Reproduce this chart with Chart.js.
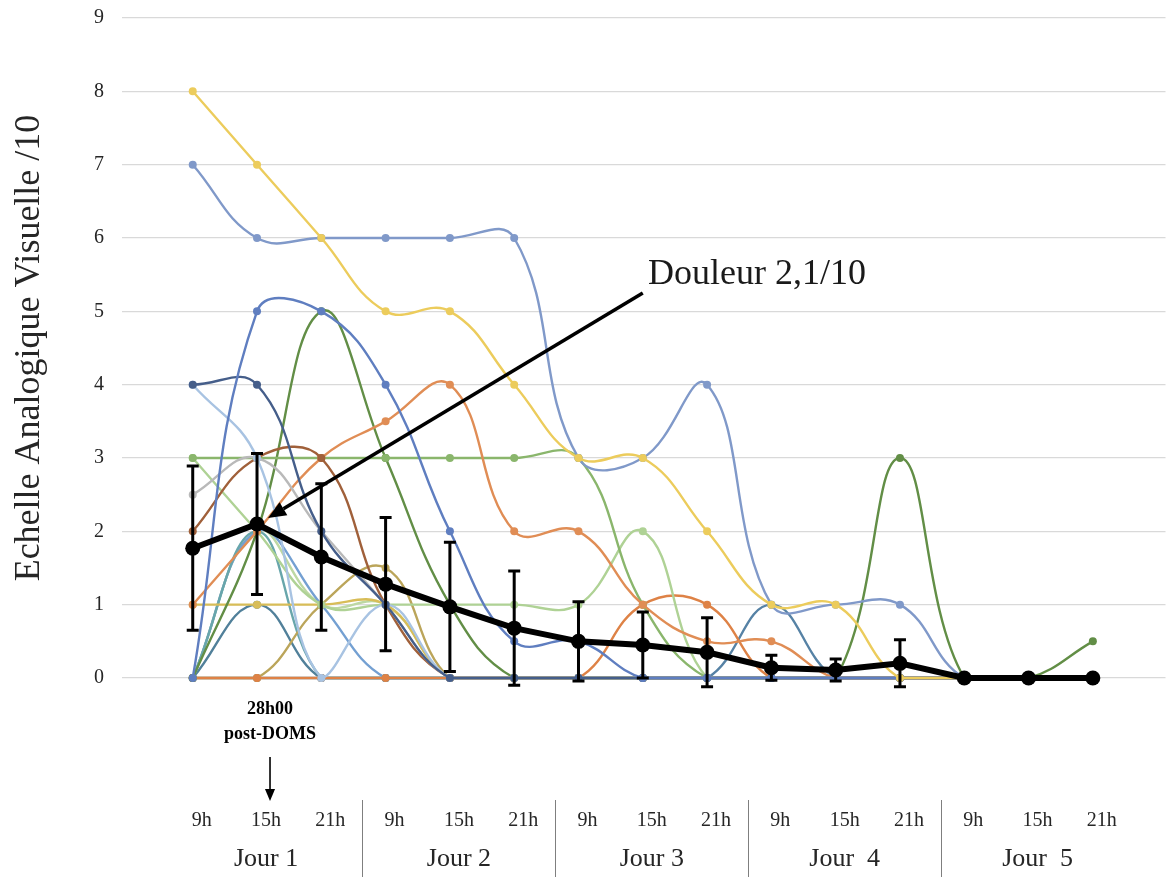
<!DOCTYPE html>
<html>
<head>
<meta charset="utf-8">
<script src="https://cdn.jsdelivr.net/npm/chart.js@4.4.1/dist/chart.umd.min.js"></script>
<style>
  html, body { margin: 0; padding: 0; background: #ffffff; }
  #wrap { width: 1173px; height: 877px; }
</style>
</head>
<body>
<div id="wrap"><canvas id="eva" width="1173" height="877"></canvas></div>
<script>
// Time points: three sessions per day over five days
const hourLabels = ['9h', '15h', '21h', '9h', '15h', '21h', '9h', '15h', '21h', '9h', '15h', '21h', '9h', '15h', '21h'];
const dayLabels = ['Jour 1', 'Jour 2', 'Jour 3', 'Jour  4', 'Jour  5'];
const yTicks = [0, 1, 2, 3, 4, 5, 6, 7, 8, 9];

// Group mean (EVA /10) and standard deviation at each time point
const meanScore = [1.77, 2.1, 1.65, 1.28, 0.97, 0.68, 0.5, 0.45, 0.35, 0.14, 0.11, 0.2, 0, 0, 0];
const meanSD    = [1.12, 0.96, 1.0, 0.91, 0.88, 0.78, 0.54, 0.45, 0.47, 0.17, 0.15, 0.32, 0, 0, 0];

// Individual participant scores
const p01 = [8, 7, 6, 5, 5, 4, 3, 3, 2, 1, 1, 0, 0, 0, 0];
const p02 = [7, 6, 6, 6, 6, 6, 3, 3, 4, 1, 1, 1, 0, 0, 0];
const p03 = [0, 5, 5, 4, 2, 0.5, 0.5, 0, 0, 0, 0, 0, 0, 0, 0];
const p04 = [4, 4, 2, 1, 0, 0, 0, 0, 0, 0, 0, 0, 0, 0, 0];
const p05 = [4, 3, 0, 1, 0, 0, 0, 0, 0, 0, 0, 0, 0, 0, 0];
const p06 = [2.5, 3, 2, 1, 0, 0, 0, 0, 0, 0, 0, 0, 0, 0, 0];
const p07 = [2, 3, 3, 1, 0, 0, 0, 0, 0, 0, 0, 0, 0, 0, 0];
const p08 = [1, 2, 3, 3.5, 4, 2, 2, 1, 0.5, 0.5, 0, 0, 0, 0, 0];
const p09 = [3, 3, 3, 3, 3, 3, 3, 1, 0, 0, 0, 0, 0, 0, 0];
const p10 = [3, 2, 1, 1, 1, 1, 1, 2, 0, 0, 0, 0, 0, 0, 0];
const p11 = [0, 2, 5, 3, 1, 0, 0, 0, 0, 0, 0, 3, 0, 0, 0.5];
const p12 = [0, 0, 0, 0, 0, 0, 0, 1, 1, 0, 0, 0, 0, 0, 0];
const p13 = [1, 1, 1, 1, 0, 0, 0, 0, 0, 0, 0, 0, 0, 0, 0];
const p14 = [0, 0, 1, 1.5, 0, 0, 0, 0, 0, 0, 0, 0, 0, 0, 0];
const p15 = [0, 2, 0, 0, 0, 0, 0, 0, 0, 0, 0, 0, 0, 0, 0];
const p16 = [0, 2, 1, 0, 0, 0, 0, 0, 0, 0, 0, 0, 0, 0, 0];
const p17 = [0, 2, 1, 1, 0, 0, 0, 0, 0, 0, 0, 0, 0, 0, 0];
const p18 = [0, 1, 0, 0, 0, 0, 0, 0, 0, 0, 0, 0, 0, 0, 0];
const p19 = [0, 0, 0, 0, 0, 0, 0, 0, 0, 1, 0, 0, 0, 0, 0];

const participants = [p01, p02, p03, p04, p05, p06, p07, p08, p09, p10, p11, p12, p13, p14, p15, p16, p17, p18, p19];
const participantColors = [
  '#eccc5c', '#8099c9', '#5f7ec0', '#455e8a', '#a8c3e2', '#b9b9b9', '#a0603a',
  '#e08d55', '#8ab66c', '#afd295', '#628e46', '#de8246', '#d8bd58', '#bba55a',
  '#68a6ab', '#74a0d2', '#bdd8a3', '#51809a', '#5682a5'
];

const SERIF = "'Liberation Serif', 'Times New Roman', serif";
const TXT = '#262626';

const toPoints = arr => arr.map((v, i) => ({ x: i, y: v }));

const datasets = participants.map((vals, k) => ({
  data: toPoints(vals),
  borderColor: participantColors[k],
  backgroundColor: participantColors[k],
  borderWidth: 2.4,
  pointRadius: 4,
  pointBorderWidth: 0,
  tension: 0.42,
  clip: false,
  order: 2
}));

datasets.push({
  data: toPoints(meanScore),
  borderColor: '#000000',
  backgroundColor: '#000000',
  borderWidth: 6,
  pointRadius: 7.5,
  pointBorderWidth: 0,
  tension: 0,
  clip: false,
  order: 0
});

function drawArrow(ctx, x1, y1, x2, y2, head, width) {
  const ang = Math.atan2(y2 - y1, x2 - x1);
  const bx = x2 - head * Math.cos(ang);
  const by = y2 - head * Math.sin(ang);
  ctx.save();
  ctx.strokeStyle = '#000';
  ctx.fillStyle = '#000';
  ctx.lineWidth = width;
  ctx.beginPath();
  ctx.moveTo(x1, y1);
  ctx.lineTo(bx, by);
  ctx.stroke();
  ctx.beginPath();
  ctx.moveTo(x2, y2);
  ctx.lineTo(bx + head * 0.42 * Math.sin(ang), by - head * 0.42 * Math.cos(ang));
  ctx.lineTo(bx - head * 0.42 * Math.sin(ang), by + head * 0.42 * Math.cos(ang));
  ctx.closePath();
  ctx.fill();
  ctx.restore();
}

// Error bars, time axis labels and annotations
const decor = {
  id: 'decor',
  afterDatasetsDraw(chart) {
    const { ctx, scales: { x, y } } = chart;
    ctx.save();
    ctx.strokeStyle = '#000';
    ctx.lineWidth = 3;
    meanScore.forEach((m, i) => {
      const sd = meanSD[i];
      if (!sd) return;
      const px = x.getPixelForValue(i);
      const top = y.getPixelForValue(m + sd);
      const bot = y.getPixelForValue(m - sd);
      ctx.beginPath();
      ctx.moveTo(px, top); ctx.lineTo(px, bot);
      ctx.moveTo(px - 6, top); ctx.lineTo(px + 6, top);
      ctx.moveTo(px - 6, bot); ctx.lineTo(px + 6, bot);
      ctx.stroke();
    });
    ctx.restore();
  },
  afterDraw(chart) {
    const { ctx, scales: { x, y } } = chart;
    const shift = 9;
    ctx.save();
    ctx.fillStyle = TXT;
    ctx.textAlign = 'center';
    ctx.textBaseline = 'middle';

    // hour labels
    ctx.font = `20px ${SERIF}`;
    hourLabels.forEach((h, i) => {
      ctx.fillText(h, x.getPixelForValue(i) + shift, 821);
    });

    // day labels, centred on the middle session
    ctx.font = `26px ${SERIF}`;
    dayLabels.forEach((d, k) => {
      ctx.fillText(d, x.getPixelForValue(k * 3 + 1) + shift, 859);
    });

    // separators between days
    ctx.strokeStyle = '#7f7f7f';
    ctx.lineWidth = 1;
    for (let k = 0; k < dayLabels.length - 1; k++) {
      const sx = Math.round(x.getPixelForValue(k * 3 + 2.5) + shift) + 0.5;
      ctx.beginPath();
      ctx.moveTo(sx, 800);
      ctx.lineTo(sx, 877);
      ctx.stroke();
    }

    // first painful time point marker
    const px1 = x.getPixelForValue(1) + 13;
    ctx.fillStyle = '#000';
    ctx.font = `bold 18px ${SERIF}`;
    ctx.fillText('28h00', px1, 709);
    ctx.fillText('post-DOMS', px1, 734);
    drawArrow(ctx, px1, 757, px1, 801, 12, 1.6);

    // peak annotation
    const tipX = x.getPixelForValue(1) + 11;
    const tipY = y.getPixelForValue(meanScore[1]) - 6;
    const sx = x.getPixelForValue(7.0);
    const sy = y.getPixelForValue(5.25);
    drawArrow(ctx, sx, sy, tipX, tipY, 18, 3.6);
    ctx.textAlign = 'left';
    ctx.textBaseline = 'alphabetic';
    ctx.fillStyle = '#1a1a1a';
    ctx.font = `36px ${SERIF}`;
    ctx.fillText('Douleur 2,1/10', x.getPixelForValue(7.08), y.getPixelForValue(5.37));
    ctx.restore();
  }
};

new Chart(document.getElementById('eva'), {
  type: 'line',
  data: { datasets },
  options: {
    responsive: false,
    animation: false,
    devicePixelRatio: 1,
    layout: { padding: { top: 18, right: 3, bottom: 199, left: 0 } },
    plugins: { legend: { display: false }, tooltip: { enabled: false } },
    scales: {
      x: {
        type: 'linear',
        min: -1.1,
        max: 15.13,
        display: false
      },
      y: {
        min: 0,
        max: 9,
        afterBuildTicks(scale) { scale.ticks = yTicks.map(v => ({ value: v })); },
        afterFit(scale) {
          scale.width = 122;
          scale.paddingTop = 0;
          scale.paddingBottom = 0;
        },
        ticks: {
          font: { family: SERIF, size: 20 },
          color: TXT,
          padding: 18
        },
        grid: { color: '#d9d9d9', lineWidth: 1.2, drawTicks: false },
        border: { display: false },
        title: {
          display: true,
          text: 'Echelle Analogique Visuelle /10',
          font: { family: SERIF, size: 36 },
          color: TXT,
          padding: { top: 8, bottom: 0 }
        }
      }
    }
  },
  plugins: [decor]
});
</script>
</body>
</html>
